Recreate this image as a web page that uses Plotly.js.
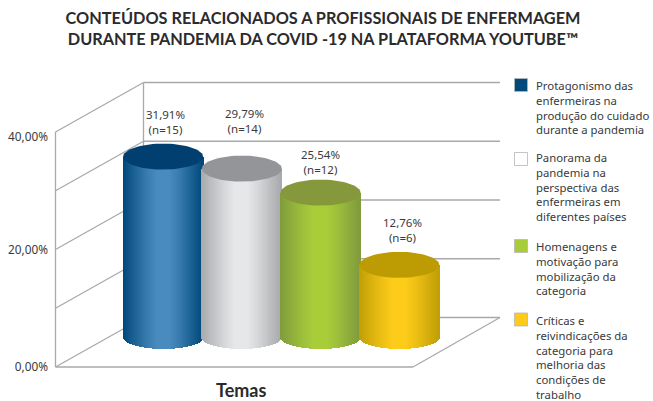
<!DOCTYPE html>
<html>
<head>
<meta charset="utf-8">
<script src="https://cdn.plot.ly/plotly-3.0.1.min.js"></script>
<style>html,body{margin:0;padding:0;background:#fff}#chart{width:653px;height:401px}</style>
</head>
<body>
<div id="chart"></div>
<script>
// ---- data ----
const categories = [
  "Protagonismo das<br>enfermeiras na<br>produção do cuidado<br>durante a pandemia",
  "Panorama da<br>pandemia na<br>perspectiva das<br>enfermeiras em<br>diferentes países",
  "Homenagens e<br>motivação para<br>mobilização da<br>categoria",
  "Críticas e<br>reivindicações da<br>categoria para<br>melhoria das<br>condições de<br>trabalho"
];
const percentages = [31.91, 29.79, 25.54, 12.76];
const counts = [15, 14, 12, 6];
const axisTickLabels = ["0,00%", "20,00%", "40,00%"];
const gridLevels = [0, 10, 20, 30, 40];

// ---- styles ----
const edgeColors   = [[0,72,122],[167,169,172],[127,155,61],[192,159,5]];
const centerColors = [[74,139,191],[230,231,233],[168,205,57],[253,203,26]];
const capColors    = ["#003f70","#939598","#85983c","#bd9c03"];
const swatchColors = ["#004a7c","#ffffff","#a8cd39","#fdcb1a"];
const textFont = "Noto Sans, Open Sans, sans-serif";
const textColor = "#3a3a3c";
const headColor = "#2b2a2c";

// ---- frame: plot area in page pixels and axis scale ----
const W = 653, H = 401;
const L = 52, R = 150, T = 78, B = 29;
const pxPerUnitY = 5.875;          // value axis scale
const pxPerUnitX = 78.75;          // one cylinder slot
const x0px = 163.1, y0px = 367;    // where x=0 and y=0 land
const xRange = [(L - x0px) / pxPerUnitX, (W - R - x0px) / pxPerUnitX];
const yRange = [(y0px - (H - B)) / pxPerUnitY, (y0px - T) / pxPerUnitY];
const paperX = px => (px - L) / (W - L - R);
const paperY = py => 1 - (py - T) / (H - T - B);

// depth of the 3D box, expressed in axis units
const depthX = 88 / pxPerUnitX, depthY = 49.5 / pxPerUnitY;
const frontX = (55.5 - x0px) / pxPerUnitX;
const floorFrontEndX = (413 - x0px) / pxPerUnitX;
const backEndX = frontX + depthX + (500 - 143.5) / pxPerUnitX;

// cylinder proportions, in axis units
const cylBase = 30 / pxPerUnitY, cylScale = 0.962;
const rx = 40 / pxPerUnitX, ryBottom = 12 / pxPerUnitY, ryTop = 13 / pxPerUnitY;
const strips = 80;

const lerp = (a, b, t) => Math.round(a + (b - a) * t);
const stopsF = [0, .12, .28, .42, .58, .72, .88, 1];
const stopsV = [0, .32, .72, 1, 1, .72, .3, 0];
function shade(f) {
  let i = 0;
  while (i < stopsF.length - 2 && f > stopsF[i + 1]) i++;
  return stopsV[i] + (stopsV[i + 1] - stopsV[i]) * (f - stopsF[i]) / (stopsF[i + 1] - stopsF[i]);
}

const traces = [];
percentages.forEach((v, i) => {
  const xs = [], bases = [], sizes = [], colors = [];
  const topY = cylBase + v * cylScale;
  for (let s = 0; s < strips; s++) {
    const f = (s + .5) / strips, t = 2 * f - 1;
    const base = cylBase - ryBottom * Math.sqrt(1 - t * t);
    const k = shade(f), e = edgeColors[i], c = centerColors[i];
    xs.push(i + t * rx);
    bases.push(base);
    sizes.push(topY - base);
    colors.push(`rgb(${lerp(e[0],c[0],k)},${lerp(e[1],c[1],k)},${lerp(e[2],c[2],k)})`);
  }
  traces.push({
    type: "bar", x: xs, y: sizes, base: bases, width: 2 * rx / strips,
    marker: { color: colors, opacity: 1, line: { width: 0 } },
    name: categories[i].replace(/<br>/g, " "), hoverinfo: "skip", showlegend: false
  });
});
percentages.forEach((v, i) => {
  const xs = [], ys = [], topY = cylBase + v * cylScale;
  for (let a = 0; a <= 72; a++) {
    const th = a / 72 * 2 * Math.PI;
    xs.push(i + rx * Math.cos(th));
    ys.push(topY + ryTop * Math.sin(th));
  }
  traces.push({
    type: "scatter", mode: "lines", x: xs, y: ys, fill: "toself",
    fillcolor: capColors[i], line: { width: 0, color: capColors[i] },
    hoverinfo: "skip", showlegend: false
  });
});

// ---- box walls ----
const lineStyle = { color: "#a7a9ac", width: 1.3 };
const seg = (x1, y1, x2, y2) => ({
  type: "line", layer: "below", xref: "x", yref: "y", x0: x1, y0: y1, x1: x2, y1: y2, line: lineStyle
});
const shapes = [];
const topLevel = gridLevels[gridLevels.length - 1];
shapes.push(seg(frontX, 0, frontX, topLevel));
shapes.push(seg(frontX + depthX, depthY, frontX + depthX, topLevel + depthY));
gridLevels.forEach(g => {
  shapes.push(seg(frontX, g, frontX + depthX, g + depthY));
  shapes.push(seg(frontX + depthX, g + depthY, backEndX, g + depthY));
});
shapes.push(seg(frontX, 0, floorFrontEndX, 0));
shapes.push(seg(floorFrontEndX, 0, backEndX, depthY));

// ---- legend ----
const swatchTops = [78.5, 152.5, 239.5, 313];
const legendTops = [77, 149, 238, 312];
swatchColors.forEach((c, i) => {
  shapes.push({
    type: "rect", xref: "paper", yref: "paper",
    x0: paperX(514.5), x1: paperX(527.5), y0: paperY(swatchTops[i]), y1: paperY(swatchTops[i] + 13),
    fillcolor: c, line: { color: "#b5b6b8", width: 0.8 }
  });
});
const annotations = categories.map((c, i) => ({
  xref: "paper", yref: "paper", x: paperX(535), y: paperY(legendTops[i]),
  xanchor: "left", yanchor: "top", align: "left", showarrow: false,
  xshift: 0, text: c, borderpad: 0, font: { family: textFont, size: 11.35, color: textColor }
}));

// ---- value labels ----
const labelShiftX = [2, 3, 0, 3];
const labelShiftY = [2, 15, -2, 2];
percentages.forEach((v, i) => {
  annotations.push({
    xref: "x", yref: "y", x: i, y: cylBase + v * cylScale + ryTop,
    xanchor: "center", yanchor: "bottom", showarrow: false, align: "center",
    xshift: labelShiftX[i], yshift: 4 + labelShiftY[i], borderpad: 0,
    text: v.toFixed(2).replace(".", ",") + "%<br>(n=" + counts[i] + ")",
    font: { family: textFont, size: 11.5, color: textColor }
  });
});
annotations.push({
  xref: "paper", yref: "paper", x: paperX(241), y: paperY(390), xanchor: "center", yanchor: "middle",
  showarrow: false, text: "<b>Temas</b>", font: { family: "Lato, sans-serif", size: 18, color: headColor }
});

const layout = {
  width: W, height: H, paper_bgcolor: "#fff", plot_bgcolor: "rgba(0,0,0,0)",
  margin: { l: L, r: R, t: T, b: B, pad: 0 },
  barmode: "overlay", bargap: 0, bargroupgap: 0, showlegend: false,
  title: {
    text: "<b>CONTEÚDOS RELACIONADOS A PROFISSIONAIS DE ENFERMAGEM<br>DURANTE PANDEMIA DA COVID -19 NA PLATAFORMA YOUTUBE™</b>",
    x: 323 / W, xanchor: "center", xref: "container", y: 1 - 23.5 / H, yref: "container", yanchor: "middle",
    font: { family: "Lato, sans-serif", size: 16.3, color: headColor }
  },
  xaxis: { range: xRange, visible: false, fixedrange: true },
  yaxis: {
    range: yRange, showgrid: false, zeroline: false, showline: false, ticks: "", ticklabelstandoff: 3,
    tickmode: "array", tickvals: [0, 20, 39.2], ticktext: axisTickLabels, fixedrange: true,
    tickfont: { family: textFont, size: 11.8, color: textColor }
  },
  shapes, annotations
};
Plotly.newPlot("chart", traces, layout, { displayModeBar: false });
</script>
</body>
</html>
